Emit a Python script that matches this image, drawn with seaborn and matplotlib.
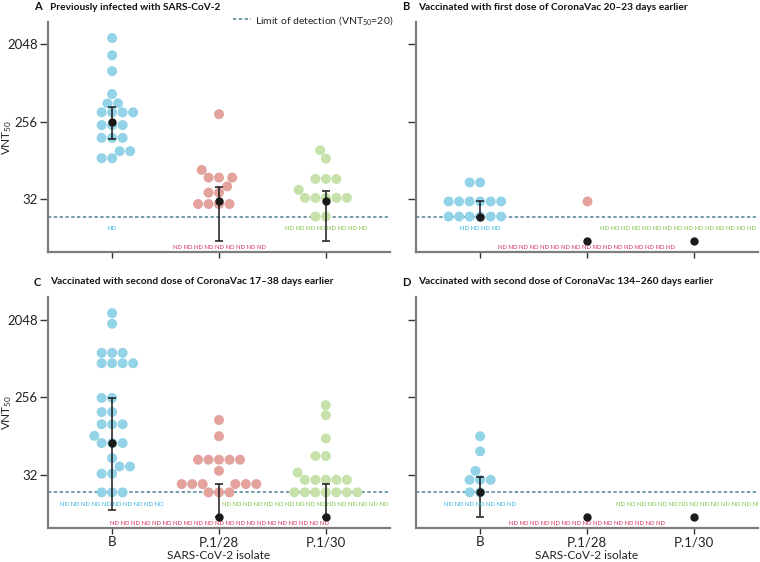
import pandas as pd
import seaborn as sns
import matplotlib.pyplot as plt
from matplotlib.ticker import NullLocator

# categories / labels
isolates = ["B", "P.1/28", "P.1/30"]
panel_letters = ["A", "B", "C", "D"]
panel_titles = ["Previously infected with SARS-CoV-2",
                "Vaccinated with first dose of CoronaVac 20\u201323 days earlier",
                "Vaccinated with second dose of CoronaVac 17\u201338 days earlier",
                "Vaccinated with second dose of CoronaVac 134\u2013260 days earlier"]
ytick_vals = [32, 256, 2048]
lod = 20

# detected VNT50 values, one list per panel / isolate
a_b = [2435, 1530, 1000, 540, 420, 420, 330, 330, 330, 330, 234, 234, 234,
       166, 166, 166, 116, 116, 96, 96]
a_p128 = [314, 70, 57, 57, 57, 45, 38, 38, 28, 28, 28, 28]
a_p130 = [119, 95, 55, 55, 55, 41, 33, 33, 33, 33, 33, 20, 20]
b_b = [50, 50, 30, 30, 30, 30, 30, 30, 20, 20, 20, 20, 20, 20]
b_p128 = [30]
b_p130 = []
c_b = [2435, 1830, 840, 840, 840, 636, 636, 636, 636, 251, 251, 172, 172,
       124, 124, 124, 91, 75, 75, 75, 50, 40, 40, 33, 33, 20, 20, 20]
c_p128 = [139, 90, 48, 48, 48, 48, 48, 35.6, 25, 25, 25, 25, 25, 25, 20, 20, 20]
c_p130 = [207, 158, 85, 53, 53, 34, 28, 28, 28, 28, 28, 20, 20, 20, 20, 20, 20, 20]
d_b = [90, 60, 35.6, 28, 28, 28, 20, 20]
d_p128 = []
d_p130 = []

# number of non-detectable samples per isolate
a_nd = [1, 9, 8]
b_nd = [4, 17, 18]
c_nd = [10, 21, 20]
d_nd = [7, 15, 15]

# central value and bars (black)
a_mid, a_lo, a_hi = [253, 30, 30.6], [159, 10.4, 10.4], [386, 44.6, 39.7]
b_mid, b_lo, b_hi = [20, 10.4, 10.4], [20, 10.4, 10.4], [30, 10.4, 10.4]
c_mid, c_lo, c_hi = [75, 10.3, 10.3], [12.5, 10.3, 10.3], [251, 25.3, 25.3]
d_mid, d_lo, d_hi = [20.4, 10.3, 10.3], [10.4, 10.3, 10.3], [30, 10.3, 10.3]

panels = [
    ([a_b, a_p128, a_p130], a_nd, a_mid, a_lo, a_hi),
    ([b_b, b_p128, b_p130], b_nd, b_mid, b_lo, b_hi),
    ([c_b, c_p128, c_p130], c_nd, c_mid, c_lo, c_hi),
    ([d_b, d_p128, d_p130], d_nd, d_mid, d_lo, d_hi),
]

dot_colors = {"B": "#93d3e7", "P.1/28": "#e3a29c", "P.1/30": "#c6e1aa"}
nd_colors = ["#2fb4de", "#d42a52", "#7cc043"]
nd_rows = [14.3, 8.7, 14.3]

sns.set_theme(style="white")
plt.rcParams['font.family'] = ['Lato', 'DejaVu Sans']
plt.rcParams['mathtext.fontset'] = 'custom'
plt.rcParams['mathtext.rm'] = 'Lato'
plt.rcParams['mathtext.it'] = 'Lato:italic'
plt.rcParams['mathtext.bf'] = 'Lato:bold'

W, H = 760, 562
fig = plt.figure(figsize=(W / 100, H / 100), dpi=100)
boxes = [(48, 22, 390, 252), (416, 22, 758, 252), (48, 297, 390, 528), (416, 297, 758, 528)]

for k, (vals, nd, mid, lo, hi) in enumerate(panels):
    x0, y0, x1, y1 = boxes[k]
    ax = fig.add_axes([x0 / W, 1 - y1 / H, (x1 - x0) / W, (y1 - y0) / H])
    df = pd.DataFrame({
        "isolate": [iso for iso, v in zip(isolates, vals) for _ in v],
        "vnt": [x for v in vals for x in v],
    })
    sns.swarmplot(data=df, x="isolate", y="vnt", hue="isolate", order=isolates,
                  hue_order=isolates, palette=dot_colors, size=7.2, linewidth=0,
                  log_scale=2, legend=False, ax=ax, zorder=2)
    ax.axhline(lod, color="#4f7f8f", lw=1.1, ls=(0, (2.2, 1.6)), zorder=1,
               label="Limit of detection (VNT$_{50}$=20)")
    for i in range(3):
        if hi[i] > lo[i]:
            ax.errorbar(i, mid[i], yerr=[[mid[i] - lo[i]], [hi[i] - mid[i]]],
                        fmt="none", ecolor="#1a1a1a", elinewidth=1.1, capsize=2.8,
                        capthick=1.1, zorder=3)
        ax.plot(i, mid[i], "o", color="#1a1a1a", ms=5, zorder=4)
        ax.text(i, nd_rows[i], " ".join(["ND"] * nd[i]), color=nd_colors[i],
                fontsize=4.3, ha="center", va="center", clip_on=True, zorder=5)

    ax.set_ylim(7.7, 3750)
    ax.set_xlim(-0.6, 2.6)
    ax.set_yticks(ytick_vals)
    ax.yaxis.set_minor_locator(NullLocator())
    ax.set_xticks([0, 1, 2])
    if k in (0, 2):
        ax.set_yticklabels([str(v) for v in ytick_vals])
        ax.set_ylabel("VNT$_{50}$", fontsize=8.5, color="#222222")
        ax.yaxis.set_label_coords(-0.098, 0.5)
    else:
        ax.set_yticklabels([])
        ax.set_ylabel("")
    if k in (2, 3):
        ax.set_xticklabels(isolates)
        ax.set_xlabel("SARS-CoV-2 isolate", fontsize=8.5, color="#222222", labelpad=1)
    else:
        ax.set_xticklabels([])
        ax.set_xlabel("")
    ax.tick_params(axis="both", direction="out", width=1, color="#333333",
                   labelsize=9.5, labelcolor="#222222", pad=2, left=True, bottom=True)
    ax.tick_params(axis="y", length=5.5)
    ax.tick_params(axis="x", length=4)
    for s in ("top", "right"):
        ax.spines[s].set_visible(False)
    for s in ("left", "bottom"):
        ax.spines[s].set_color("#7d7d7d")
        ax.spines[s].set_linewidth(1.6)

    if k == 0:
        ax.legend(loc="lower right", bbox_to_anchor=(1.01, 0.98), frameon=False,
                  fontsize=7.5, handlelength=1.7, handletextpad=0.4,
                  borderaxespad=0, borderpad=0)

    fig.text((x0 - 14) / W, 1 - (y0 - 15) / H, panel_letters[k], fontsize=8,
             fontweight="bold", color="#111111", va="center", ha="left")
    fig.text((x0 + 2) / W, 1 - (y0 - 15) / H, panel_titles[k], fontsize=7.3,
             fontweight="bold", color="#111111", va="center", ha="left")

fig.savefig("out.png", dpi=100)
